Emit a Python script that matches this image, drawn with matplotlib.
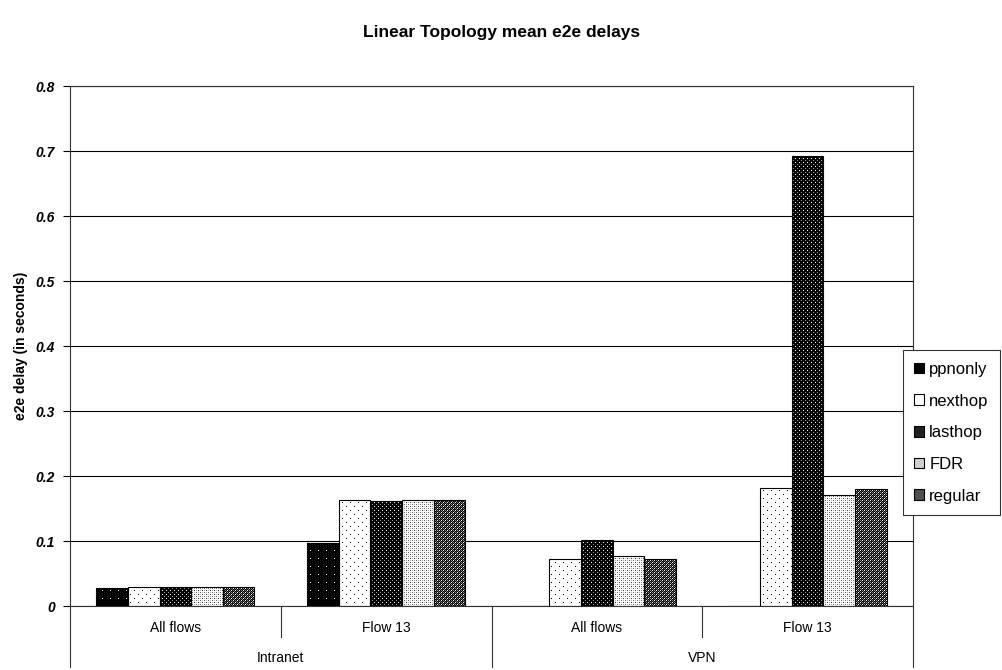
import matplotlib
matplotlib.use('Agg')
import matplotlib.pyplot as plt
from matplotlib.patches import Patch, PathPatch
from matplotlib.path import Path
import numpy as np

plt.rcParams['font.family'] = ['Liberation Sans', 'DejaVu Sans']

# categories along the x axis
groups = ['Intranet', 'VPN']
subgroups = ['All flows', 'Flow 13']

# mean e2e delay per scheme (Intranet/All, Intranet/Flow13, VPN/All, VPN/Flow13)
series = ['ppnonly', 'nexthop', 'lasthop', 'FDR', 'regular']
ppnonly = [0.028, 0.097, 0.0, 0.0]
nexthop = [0.029, 0.163, 0.072, 0.181]
lasthop = [0.029, 0.162, 0.101, 0.692]
fdr = [0.029, 0.163, 0.077, 0.171]
regular = [0.029, 0.163, 0.073, 0.180]
values = [ppnonly, nexthop, lasthop, fdr, regular]


def tile(rows):
    return np.array(rows, dtype=float)


# pixel fill patterns (0 = black, 1 = white), excel style
patterns = [
    tile([[1, 0, 0, 0, 0, 0, 0, 0]] + [[0] * 8] * 7),
    tile([[0, 1, 1, 1, 1, 1, 1, 1],
          [1, 1, 1, 1, 1, 1, 1, 1],
          [1, 1, 1, 1, 1, 1, 1, 1],
          [1, 1, 1, 1, 1, 1, 1, 1],
          [1, 1, 1, 1, 0, 1, 1, 1],
          [1, 1, 1, 1, 1, 1, 1, 1],
          [1, 1, 1, 1, 1, 1, 1, 1],
          [1, 1, 1, 1, 1, 1, 1, 1]]),
    tile([[1, 0, 0, 0],
          [0, 0, 0, 0],
          [0, 0, 0.6, 0],
          [0, 0, 0, 0]]),
    tile([[0.2, 1, 0.7, 1],
          [1, 1, 1, 1],
          [0.7, 1, 0.4, 1],
          [1, 1, 1, 1]]),
    tile([[0, 1, 0, 0.5],
          [0.5, 0, 0.2, 0],
          [0, 0.5, 0, 1],
          [0.2, 0, 0.5, 0]]),
]
legend_colors = ['black', 'white', '#202020', '#d0d0d0', '#505050']

fig = plt.figure(figsize=(10.03, 6.70), dpi=100)
ax = fig.add_axes([0.0698, 0.0955, 0.8405, 0.776])

n_cat = len(groups) * len(subgroups)
x = np.arange(n_cat)
width = 0.15
xlim = (-0.5, n_cat - 0.5)
ylim = (0, 0.8)
ax.set_xlim(*xlim)
ax.set_ylim(*ylim)

bbox = ax.get_window_extent()
W, H = int(round(bbox.width)), int(round(bbox.height))

for i, vals in enumerate(values):
    pos = x - 0.375 + width * (i + 0.5)
    bars = ax.bar(pos, vals, width, fill=False, edgecolor='black', linewidth=0.8, zorder=3)
    # texture the bars: full-axes pattern image clipped to this series' bars
    paths = [r.get_path().transformed(r.get_patch_transform()) for r in bars]
    clip = PathPatch(Path.make_compound_path(*paths), transform=ax.transData,
                     facecolor='none', edgecolor='none')
    t = patterns[i]
    img = np.tile(t, (H // t.shape[0] + 1, W // t.shape[1] + 1))[:H, :W]
    im = ax.imshow(img, cmap='gray', vmin=0, vmax=1, extent=(*xlim, *ylim),
                   aspect='auto', interpolation='nearest', zorder=2)
    im.set_clip_path(clip)

ax.set_xlim(*xlim)
ax.set_ylim(*ylim)
ax.set_yticks(np.arange(0, 0.81, 0.1))
ax.set_yticklabels(['0'] + ['%.1f' % v for v in np.arange(0.1, 0.81, 0.1)],
                   fontsize=10, fontweight='bold', fontstyle='italic')
ax.tick_params(axis='y', length=5, width=0.8, direction='out', pad=6)
ax.set_xticks([])
ax.grid(axis='y', color='black', linewidth=0.8, zorder=0)
for s in ax.spines.values():
    s.set_linewidth(0.8)
    s.set_color('#333333')

ax.set_ylabel('e2e delay (in seconds)', fontsize=10, fontweight='bold', labelpad=5)
fig.text(0.5, 0.952, 'Linear Topology mean e2e delays', ha='center', va='center',
         fontsize=12.5, fontweight='bold')

# two-level category axis below the plot
trans = ax.get_xaxis_transform()
for k in range(n_cat + 1):
    xb = k - 0.5
    yb = -0.117 if k % len(subgroups) == 0 else -0.06
    ax.plot([xb, xb], [0, yb], transform=trans, color='#333333', lw=0.8, clip_on=False)
for k in range(n_cat):
    ax.text(k, -0.042, subgroups[k % len(subgroups)], transform=trans,
            ha='center', va='center', fontsize=10)
for g, name in enumerate(groups):
    ax.text(g * len(subgroups) + (len(subgroups) - 1) / 2, -0.1, name, transform=trans,
            ha='center', va='center', fontsize=10)

handles = [Patch(facecolor=c, edgecolor='black', linewidth=0.8) for c in legend_colors]
leg = fig.legend(handles, series, loc='center left', bbox_to_anchor=(0.9, 0.354),
                 fontsize=12, handlelength=0.6, handleheight=0.6, handletextpad=0.3,
                 labelspacing=1.0, borderpad=0.7, borderaxespad=0, fancybox=False,
                 frameon=True, edgecolor='#333333', framealpha=1)
leg.get_frame().set_linewidth(0.8)

fig.savefig('out.png', dpi=100)
